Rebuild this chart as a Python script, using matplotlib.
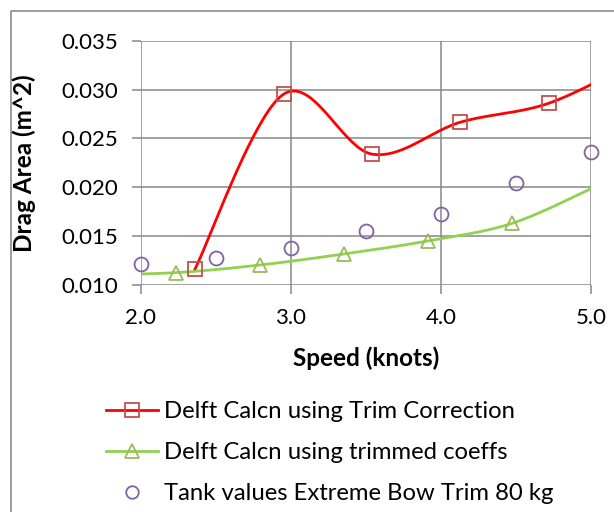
import numpy as np
import matplotlib
matplotlib.use("Agg")
import matplotlib.pyplot as plt
from matplotlib.lines import Line2D

plt.rcParams['font.family'] = ['Lato', 'DejaVu Sans']

# Series data (speed in knots, drag area in m^2)
trim_corr_speed = [2.36, 2.951, 3.542, 4.129, 4.72, 5.31]
trim_corr_area = [0.0116, 0.02955, 0.02339, 0.02667, 0.02862, 0.0330]

trimmed_speed = [1.676, 2.235, 2.793, 3.351, 3.913, 4.475, 5.034]
trimmed_area = [0.0110, 0.01124, 0.01202, 0.01315, 0.01449, 0.01630, 0.0201]

tank_speed = [2.0, 2.5, 3.0, 3.5, 4.0, 4.5, 5.0]
tank_area = [0.01209, 0.01271, 0.01374, 0.01554, 0.01723, 0.02047, 0.02366]

x_ticks = [2.0, 3.0, 4.0, 5.0]
y_ticks = [0.010, 0.015, 0.020, 0.025, 0.030, 0.035]

labels = ["Delft Calcn using Trim Correction",
          "Delft Calcn using trimmed coeffs",
          "Tank values Extreme Bow Trim 80 kg"]


def smooth(xs, ys, n=40):
    """Bezier smoothing through every point (Catmull-Rom style tangents)."""
    p = np.column_stack([xs, ys]).astype(float)
    pts = np.vstack([p[0], p, p[-1]])
    out = []
    t = np.linspace(0, 1, n)[:, None]
    for i in range(1, len(pts) - 2):
        p0, p1, p2, p3 = pts[i - 1], pts[i], pts[i + 1], pts[i + 2]
        c1 = p1 + (p2 - p0) / 6.0
        c2 = p2 - (p3 - p1) / 6.0
        seg = ((1 - t) ** 3) * p1 + 3 * ((1 - t) ** 2) * t * c1 \
            + 3 * (1 - t) * t ** 2 * c2 + t ** 3 * p2
        out.append(seg if i == 1 else seg[1:])
    s = np.vstack(out)
    return s[:, 0], s[:, 1]


W, H = 614, 512
fig = plt.figure(figsize=(W / 100, H / 100), dpi=100)

left, right, top, bottom = 141, 591, 41, 284.7
ax = fig.add_axes([left / W, 1 - bottom / H, (right - left) / W, (bottom - top) / H])

grid_c = '#878787'
xmin, xmax = 2.0, 5.0
ymin, ymax = 0.010, 0.035
ax.set_xlim(xmin, xmax)
ax.set_ylim(ymin, ymax)

for v in x_ticks:
    ax.axvline(v, color=grid_c, lw=1.1, zorder=1)
for v in y_ticks:
    ax.axhline(v, color=grid_c, lw=1.1, zorder=1)

for sp in ax.spines.values():
    sp.set_visible(False)

ax.set_xticks(x_ticks)
ax.set_yticks(y_ticks)
ax.set_xticklabels([f"{v:.1f}" for v in x_ticks])
ax.set_yticklabels([f"{v:.3f}" for v in y_ticks])
ax.tick_params(axis='both', direction='out', length=6.5, width=1.1,
               color=grid_c, labelsize=16, pad=10, labelcolor='black')


def in_range(xs, ys):
    xs = np.asarray(xs); ys = np.asarray(ys)
    m = (xs >= xmin - 1e-9) & (xs <= xmax + 1e-9)
    return xs[m], ys[m]


# Delft calc with trim correction
sx, sy = smooth(trim_corr_speed, trim_corr_area)
ax.plot(sx, sy, color='#FF0000', lw=2.0, zorder=3)
mx, my = in_range(trim_corr_speed, trim_corr_area)
ax.plot(mx, my, ls='none', marker='s', ms=9.5, mfc='none', mec='#C0504D',
        mew=1.3, zorder=4, clip_on=False)

# Delft calc with trimmed coefficients
sx, sy = smooth(trimmed_speed, trimmed_area)
ax.plot(sx, sy, color='#92D050', lw=2.0, zorder=3)
mx, my = in_range(trimmed_speed, trimmed_area)
ax.plot(mx, my, ls='none', marker='^', ms=10, mfc='none', mec='#9BBB59',
        mew=1.3, zorder=4, clip_on=False)

# Tank test values
ax.plot(tank_speed, tank_area, ls='none', marker='o', ms=10, mfc='none',
        mec='#8064A2', mew=1.3, zorder=4, clip_on=False)

fig.text(366 / W, 1 - 358 / H, "Speed (knots)", ha='center', va='center',
         fontsize=17.5, fontweight='bold')
fig.text(24 / W, 1 - 163 / H, "Drag Area (m^2)", ha='center', va='center',
         rotation=90, fontsize=17.5, fontweight='bold')

handles = [
    Line2D([], [], color='#FF0000', lw=2.0, marker='s', ms=9.5, mfc='none',
           mec='#C0504D', mew=1.3),
    Line2D([], [], color='#92D050', lw=2.0, marker='^', ms=10, mfc='none',
           mec='#9BBB59', mew=1.3),
    Line2D([], [], ls='none', marker='o', ms=9, mfc='none', mec='#8064A2',
           mew=1.3),
]
fig.legend(handles, labels, loc='upper left',
           bbox_to_anchor=(106 / W, 1 - 401 / H), frameon=False,
           fontsize=17.2, handlelength=2.18, handletextpad=0.25,
           labelspacing=0.84, borderpad=0, borderaxespad=0)

# Chart area border
fig.add_artist(Line2D([11 / W, 11 / W, 1.0], [0.0, 1 - 11 / H, 1 - 11 / H],
                      transform=fig.transFigure, color='#8C8C8C', lw=1.2))

fig.savefig("out.png", dpi=100)
